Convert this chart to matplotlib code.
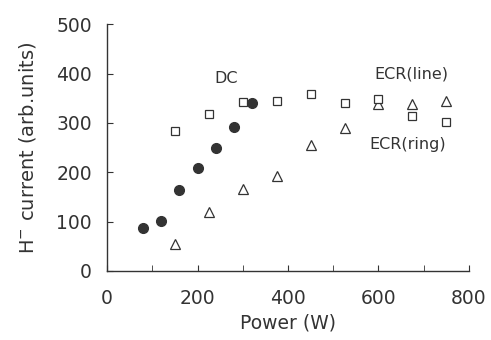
import matplotlib
matplotlib.use("Agg")
import matplotlib.pyplot as plt
from matplotlib.ticker import MultipleLocator

plt.rcParams['font.family'] = ['DejaVu Sans']

dc_power = [80, 120, 160, 200, 240, 280, 320]
dc_current = [87, 102, 165, 208, 249, 291, 340]

line_power = [150, 225, 300, 375, 450, 525, 600, 675, 750]
line_current = [283, 317, 342, 345, 358, 341, 348, 314, 302]

ring_power = [150, 225, 300, 375, 450, 525, 600, 675, 750]
ring_current = [55, 119, 167, 193, 255, 289, 338, 338, 345]

col = '#333333'
fig = plt.figure(figsize=(4.91, 3.40), dpi=100)
ax = fig.add_axes([0.218, 0.203, 0.737, 0.726])

ax.plot(ring_power, ring_current, linestyle='none', marker='^', ms=6.5,
        mfc='white', mec=col, mew=0.9)
ax.plot(line_power, line_current, linestyle='none', marker='s', ms=6,
        mfc='white', mec=col, mew=0.9)
ax.plot(dc_power, dc_current, linestyle='none', marker='o', ms=7,
        mfc=col, mec=col)

ax.set_xlim(0, 800)
ax.set_ylim(0, 500)
ax.xaxis.set_major_locator(MultipleLocator(200))
ax.xaxis.set_minor_locator(MultipleLocator(100))
ax.yaxis.set_major_locator(MultipleLocator(100))
for s in ['top', 'right']:
    ax.spines[s].set_visible(False)
for s in ['left', 'bottom']:
    ax.spines[s].set_color(col)
    ax.spines[s].set_linewidth(1.0)
ax.tick_params(which='both', direction='in', colors=col, labelsize=13.5)
ax.tick_params(which='major', length=4)
ax.tick_params(which='minor', length=4)
ax.tick_params(axis='y', pad=11)
ax.tick_params(axis='x', pad=13)

ax.set_xlabel('Power (W)', fontsize=13.5, color=col, labelpad=4)
ax.set_ylabel('H$^{-}$ current (arb.units)', fontsize=14, color=col, labelpad=13)

ax.text(264, 390, 'DC', fontsize=11.5, color=col, ha='center', va='center')
ax.text(672, 400, 'ECR(line)', fontsize=11.5, color=col, ha='center', va='center')
ax.text(665, 256, 'ECR(ring)', fontsize=11.5, color=col, ha='center', va='center')

fig.savefig('out.png', dpi=100)
